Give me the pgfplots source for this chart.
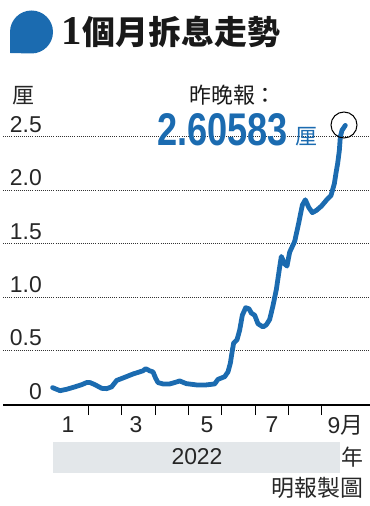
\documentclass[border=0pt]{standalone}
\usepackage{pgfplots}
\pgfplotsset{compat=1.18}
\usepackage{graphicx}
\usepackage{fontspec}
\setmainfont{Liberation Sans}
\newfontfamily\cjk{Noto Sans CJK TC}
\newfontfamily\serifb{Liberation Serif}
\definecolor{mpblue}{RGB}{27,107,176}
\definecolor{bandgray}{RGB}{227,231,234}
\tikzset{ylab/.style={anchor=base east, inner sep=0pt, yshift=4.5bp, text=black!85,
        font=\fontsize{23}{23}\selectfont}}
\begin{document}
\begin{tikzpicture}
\path[use as bounding box] (0bp,0bp) rectangle (370bp,506bp);
\begin{axis}[
  at={(3bp,101bp)}, anchor=south west,
  scale only axis, width=367bp, height=295bp,
  xmin=-1.56, xmax=9.45, ymin=-0.01, ymax=2.75,
  axis lines*=left,
  y axis line style={draw=none},
  x axis line style={line width=1.1bp, black},
  xtick={1,2,3,4,5,6,7,8}, xticklabels={},
  tick align=outside, major tick length=10bp,
  xtick style={line width=0.9bp, black},
  ytick={0.5,1,1.5,2,2.5}, yticklabels={},
  ytick style={draw=none},
  ymajorgrids,
  grid style={black!80, line width=0.8bp, dash pattern=on 0.8bp off 1.3bp},
  clip=false,
]
\addplot[mpblue, line width=4.8bp, line join=round, line cap=round] coordinates {
(-0.07,0.152) (0.15,0.124) (0.35,0.137) (0.60,0.160) (0.80,0.180) (0.95,0.200)
(1.05,0.200) (1.20,0.180) (1.40,0.146) (1.55,0.143) (1.70,0.160) (1.85,0.220)
(2.10,0.250) (2.34,0.280) (2.54,0.300) (2.64,0.310) (2.72,0.330) (2.84,0.310)
(2.94,0.300) (3.02,0.240) (3.09,0.200) (3.24,0.187) (3.44,0.187) (3.59,0.200)
(3.74,0.215) (3.94,0.190) (4.24,0.178) (4.54,0.178) (4.79,0.187) (4.89,0.230)
(5.09,0.255) (5.19,0.300) (5.26,0.380) (5.32,0.500) (5.36,0.570) (5.46,0.600)
(5.54,0.690) (5.62,0.830) (5.72,0.900) (5.82,0.890) (5.89,0.850) (5.99,0.830)
(6.09,0.750) (6.24,0.720) (6.34,0.740) (6.44,0.790) (6.54,0.920) (6.64,1.070)
(6.74,1.280) (6.79,1.380) (6.89,1.310) (6.96,1.290) (7.04,1.420) (7.19,1.520)
(7.31,1.690) (7.42,1.860) (7.51,1.910) (7.61,1.840) (7.72,1.790) (7.84,1.810)
(7.99,1.850) (8.18,1.920) (8.28,1.950) (8.38,2.060) (8.43,2.160) (8.48,2.250)
(8.53,2.370) (8.56,2.500) (8.61,2.560) (8.71,2.606)
};
\node[ylab] at (axis cs:-0.39,0) {0};
\node[ylab] at (axis cs:-0.39,0.5) {0.5};
\node[ylab] at (axis cs:-0.39,1) {1.0};
\node[ylab] at (axis cs:-0.39,1.5) {1.5};
\node[ylab] at (axis cs:-0.39,2) {2.0};
\node[ylab] at (axis cs:-0.39,2.5) {2.5};
\end{axis}
% title
\fill[mpblue] (10bp,453bp) -- (10bp,474bp) arc[start angle=180,end angle=-90,radius=21.5bp] -- cycle;
\node[anchor=base west, inner sep=0pt, text=black!90] at (61bp,461bp)
  {\fontsize{41}{41}\selectfont\bfseries\serifb 1\hspace{1bp}\fontsize{33}{33}\selectfont\cjk 個月拆息走勢};
% unit
\node[inner sep=0pt, text=black!85] at (23bp,410bp) {\fontsize{22}{22}\selectfont\cjk 厘};
% annotation
\node[inner sep=0pt, text=black!90] at (233bp,411bp) {\fontsize{22}{22}\selectfont\cjk 昨晚報：};
\node[inner sep=0pt, text=mpblue] at (222.5bp,376.5bp)
  {\scalebox{0.79}[1]{\fontsize{46}{46}\selectfont\bfseries 2.60583}};
\node[inner sep=0pt, text=mpblue] at (306bp,369bp) {\fontsize{22}{22}\selectfont\cjk 厘};
\draw[black, line width=1bp] (344bp,381bp) circle[radius=13bp];
% month labels
\node[inner sep=0pt, text=black!85] at (68bp,81bp) {\fontsize{23}{23}\selectfont 1};
\node[inner sep=0pt, text=black!85] at (136bp,81bp) {\fontsize{23}{23}\selectfont 3};
\node[inner sep=0pt, text=black!85] at (207bp,81bp) {\fontsize{23}{23}\selectfont 5};
\node[inner sep=0pt, text=black!85] at (272bp,81bp) {\fontsize{23}{23}\selectfont 7};
\node[anchor=west, inner sep=0pt, text=black!85] at (327.5bp,81bp) {\fontsize{23}{23}\selectfont 9\cjk 月};
% year band
\fill[bandgray] (53bp,33bp) rectangle (340bp,64bp);
\node[inner sep=0pt, text=black!85] at (197bp,49bp) {\fontsize{23}{23}\selectfont 2022};
\node[inner sep=0pt, text=black!85] at (352bp,49bp) {\fontsize{22}{22}\selectfont\cjk 年};
\node[inner sep=0pt, text=black!85] at (317.5bp,18bp) {\fontsize{23}{23}\selectfont\cjk 明報製圖};
\end{tikzpicture}
\end{document}
